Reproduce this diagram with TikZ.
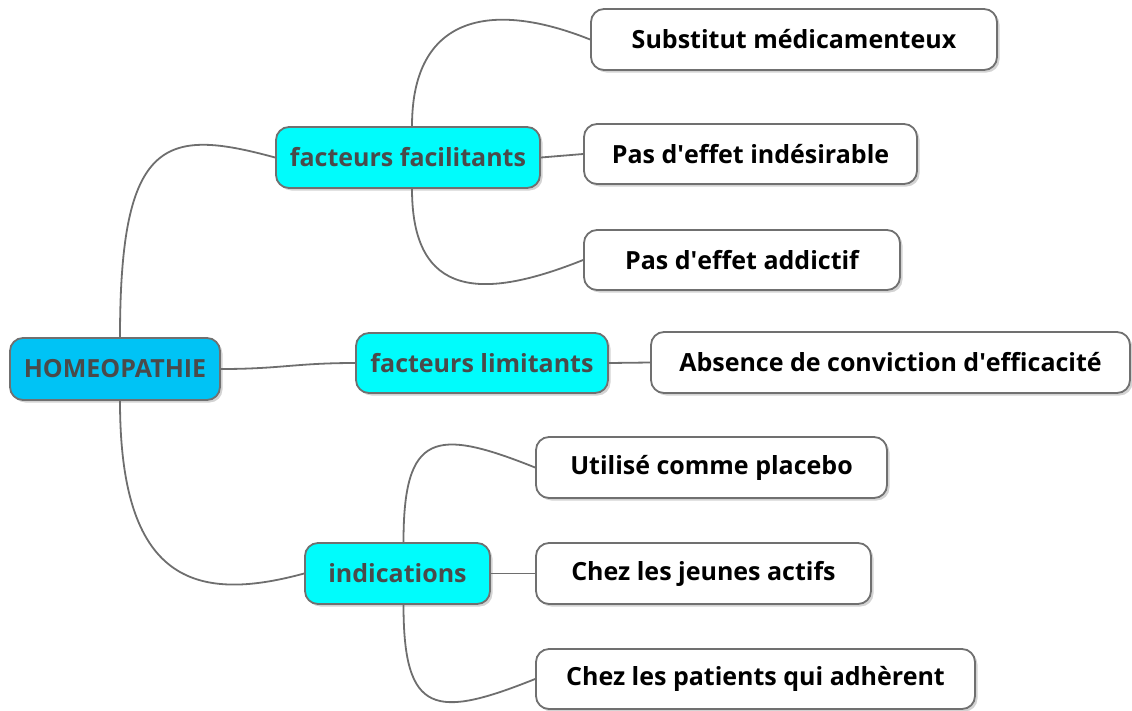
\documentclass[tikz,border=0pt]{standalone}
\usepackage{fontspec}
\setmainfont{Open Sans}
\usetikzlibrary{shadows}
\definecolor{rootblue}{HTML}{00C3F5}
\definecolor{subcyan}{HTML}{00FCFC}
\definecolor{edgegray}{HTML}{6E6E6E}
\definecolor{bordergray}{HTML}{707070}
\definecolor{darktext}{HTML}{4A4A4A}
\newcommand{\apos}{\textquotesingle}
\tikzset{
  basebox/.style={draw=bordergray, line width=1.8pt, rounded corners=13pt, align=center,
    font=\bfseries\fontsize{25}{30}\selectfont, inner sep=0pt,
    drop shadow={shadow xshift=2.5pt, shadow yshift=-2.5pt, opacity=0.35}},
  rootbox/.style={basebox, fill=rootblue, text=darktext},
  catbox/.style={basebox, fill=subcyan, text=darktext},
  leafbox/.style={basebox, fill=white, text=black},
  link/.style={draw=edgegray, line width=1.8pt}
}
\begin{document}
\begin{tikzpicture}[x=1pt,y=-1pt]
\useasboundingbox (0,0) rectangle (1132,710);
% nodes
\node[rootbox, minimum width=210pt, minimum height=62pt] (root) at (115,369) {HOMEOPATHIE};
\node[catbox, minimum width=264pt, minimum height=61pt] (ff) at (408,157.5) {facteurs facilitants};
\node[catbox, minimum width=252pt, minimum height=60pt] (fl) at (482,363) {facteurs limitants};
\node[catbox, minimum width=185pt, minimum height=61pt] (ind) at (397.5,573.5) {indications};
\node[leafbox, minimum width=406pt, minimum height=61pt] (l1) at (794,39.5) {Substitut médicamenteux};
\node[leafbox, minimum width=333pt, minimum height=60pt] (l2) at (750.5,154) {Pas d\apos{}effet indésirable};
\node[leafbox, minimum width=316pt, minimum height=60pt] (l3) at (742,260) {Pas d\apos{}effet addictif};
\node[leafbox, minimum width=479pt, minimum height=61pt] (l4) at (890.5,362.5) {Absence de conviction d\apos{}efficacité};
\node[leafbox, minimum width=351pt, minimum height=61pt] (l5) at (711.5,467.5) {Utilisé comme placebo};
\node[leafbox, minimum width=335pt, minimum height=61pt] (l6) at (703.5,573.5) {Chez les jeunes actifs};
\node[leafbox, minimum width=439pt, minimum height=60pt] (l7) at (755.5,679) {Chez les patients qui adhèrent};
% connectors
\draw[link] ([xshift=5pt]root.north) .. controls +(0,-200) and +(-110,-30) .. (ff.west);
\draw[link] (root.east) .. controls +(60,0) and +(-60,0) .. (fl.west);
\draw[link] ([xshift=5pt]root.south) .. controls +(0,180) and +(-110,30) .. (ind.west);
\draw[link] ([xshift=4pt]ff.north) .. controls +(0,-110) and +(-100,-40) .. (l1.west);
\draw[link] (ff.east) -- (l2.west);
\draw[link] ([xshift=4pt]ff.south) .. controls +(0,110) and +(-100,40) .. (l3.west);
\draw[link] (fl.east) -- (l4.west);
\draw[link] ([xshift=6pt]ind.north) .. controls +(0,-110) and +(-100,-40) .. (l5.west);
\draw[link] (ind.east) -- (l6.west);
\draw[link] ([xshift=6pt]ind.south) .. controls +(0,110) and +(-100,40) .. (l7.west);
\end{tikzpicture}
\end{document}
